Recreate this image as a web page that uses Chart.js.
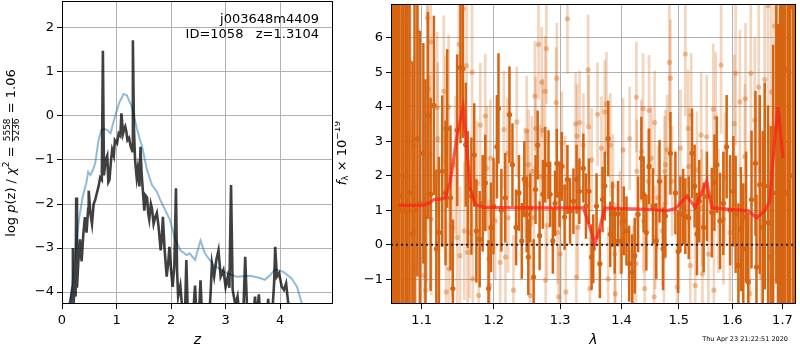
<!DOCTYPE html>
<html>
<head>
<meta charset="utf-8">
<script src="https://cdn.jsdelivr.net/npm/chart.js@4.4.1/dist/chart.umd.min.js"></script>
<style>
body { margin: 0; background: #fff; }
#wrap { position: relative; width: 800px; height: 350px; }
canvas { position: absolute; top: 0; }
#pz { left: 0; }
#sp { left: 335px; }
</style>
</head>
<body>
<div id="wrap">
<canvas id="pz" width="336" height="350"></canvas>
<canvas id="sp" width="465" height="350"></canvas>
</div>
<script>
// ---- p(z) panel ----
const zTicks = [0, 1, 2, 3, 4];
const pzTicks = [-4, -3, -2, -1, 0, 1, 2];

const zGrid = [0.12,0.15,0.19,0.20,0.21,0.23,0.25,0.26,0.275,0.30,
  0.33,0.36,0.39,0.42,0.45,0.48,0.49,0.52,0.55,0.58,
  0.61,0.64,0.67,0.70,0.73,0.75,0.77,0.80,0.83,0.85,
  0.87,0.90,0.92,0.95,0.97,1.01,1.04,1.07,1.09,1.12,
  1.14,1.16,1.18,1.20,1.23,1.26,1.29,1.30,1.32,1.34,
  1.37,1.39,1.42,1.44,1.46,1.48,1.51,1.53,1.56,1.58,
  1.60,1.63,1.65,1.68,1.71,1.74,1.77,1.81,1.83,1.85,
  1.88,1.92,1.95,1.97,2.00,2.03,2.06,2.09,2.11,2.13,
  2.17,2.22,2.26,2.28,2.31,2.40,2.44,2.47,2.52,2.54,
  2.57,2.70,2.73,2.75,2.79,2.83,2.87,2.91,2.96,3.00,
  3.04,3.07,3.10,3.13,3.18,3.22,3.26,3.33,3.36,3.40,
  3.50,3.54,3.57,3.61,3.64,3.76,3.78,3.81,3.86,3.89,
  3.91,3.94,3.98,4.03,4.07,4.11,4.14,4.18];
const logPz = [-4.6,-4.3,-3.9,-3.0,-4.3,-3.9,-4.1,-1.85,-3.9,-3.3,
  -2.8,-3.3,-2.7,-2.3,-2.65,-2.1,-1.7,-2.2,-2.45,-2.0,
  -1.9,-1.75,-1.6,-1.4,-1.45,1.48,-1.35,-1.0,-0.9,-1.5,
  -1.45,-1.0,-0.77,-0.9,-0.55,-0.62,-0.4,-0.45,0.06,-0.4,
  -0.3,-0.24,-0.35,-0.55,-0.5,-0.7,-0.8,1.72,-0.3,-1.0,
  -1.4,-1.2,-1.6,-0.7,-1.3,-1.65,-2.15,-1.8,-1.85,-2.2,
  -2.35,-2.0,-2.1,-2.45,-2.3,-2.2,-2.5,-3.05,-2.8,-2.29,
  -3.0,-3.65,-3.3,-2.97,-3.5,-3.88,-3.4,-1.64,-3.5,-4.1,
  -3.85,-4.6,-4.3,-3.27,-4.6,-4.6,-3.85,-4.6,-4.3,-3.73,
  -4.6,-4.6,-3.9,-3.35,-3.65,-3.27,-3.05,-3.65,-3.5,-3.88,
  -3.65,-3.9,-1.57,-3.95,-4.3,-4.1,-4.6,-4.3,-3.2,-4.6,
  -4.6,-4.1,-4.6,-4.05,-4.6,-4.6,-4.15,-4.6,-4.4,-3.8,
  -2.97,-3.65,-3.57,-3.88,-3.95,-3.8,-4.15,-4.6];

const zSmooth = [0.11,0.18,0.24,0.31,0.38,0.45,0.48,0.52,0.56,0.61,
  0.67,0.72,0.78,0.83,0.89,0.98,1.05,1.13,1.19,1.28,
  1.38,1.47,1.56,1.65,1.74,1.80,1.98,2.03,2.07,2.17,
  2.29,2.34,2.44,2.54,2.62,2.78,3.02,3.20,3.45,3.63,
  3.72,3.82,3.91,4.06,4.21,4.31,4.42];
const logPzSmooth = [-4.4,-3.95,-3.12,-2.36,-1.83,-1.5,-1.27,-1.34,-1.25,-1.07,
  -0.55,-0.32,-0.3,-0.32,-0.39,0.02,0.3,0.5,0.47,0.21,
  -0.32,-0.7,-1.23,-1.57,-1.72,-1.9,-2.36,-2.6,-2.78,-3.05,
  -3.16,-3.12,-3.27,-2.83,-3.12,-3.39,-3.57,-3.65,-3.63,-3.68,
  -3.72,-3.61,-3.48,-3.54,-3.69,-3.88,-4.35];

// ---- spectrum panel ----
const lamTicks = [1.1, 1.2, 1.3, 1.4, 1.5, 1.6, 1.7];
const fluxTicks = [-1, 0, 1, 2, 3, 4, 5, 6];

const lamDark = [1.0605,1.0625,1.0648,1.0668,1.0684,1.0705,1.0736,1.0760,1.0790,1.0813,
  1.0840,1.0878,1.0905,1.0943,1.0975,1.1022,1.1050,1.1083,1.1119,1.1163,
  1.1196,1.1231,1.1276,1.1321,1.1344,1.1389,1.1421,1.1481,1.1527,1.1560,
  1.1600,1.1630,1.1680,1.1720,1.1750,1.1797,1.1840,1.1877,1.1924,1.1960,
  1.1996,1.2045,1.2068,1.2110,1.2166,1.2229,1.2273,1.2327,1.2370,1.2412,
  1.2450,1.2486,1.2510,1.2540,1.2591,1.2620,1.2652,1.2682,1.2732,1.2767,
  1.2819,1.2844,1.2886,1.2920,1.2948,1.2990,1.3026,1.3070,1.3115,1.3156,
  1.3210,1.3260,1.3305,1.3369,1.3411,1.3459,1.3503,1.3530,1.3584,1.3638,
  1.3682,1.3720,1.3776,1.3810,1.3847,1.3885,1.3940,1.3999,1.4037,1.4083,
  1.4129,1.4180,1.4224,1.4282,1.4339,1.4378,1.4425,1.4472,1.4541,1.4599,
  1.4657,1.4720,1.4760,1.4850,1.4940,1.4990,1.5030,1.5080,1.5120,1.5182,
  1.5242,1.5290,1.5334,1.5376,1.5458,1.5520,1.5611,1.5660,1.5705,1.5767,
  1.5830,1.5893,1.5960,1.6022,1.6066,1.6120,1.6168,1.6215,1.6270,1.6312,
  1.6377,1.6455,1.6475,1.6540,1.6600,1.6640,1.6708,1.6760,1.6810,1.6875,
  1.6909,1.6950,1.6980,1.7020,1.7060,1.7116,1.7160,1.7219,1.7260];
const fluxDark = [1.0,1.0,1.0,2.0,4.52,1.0,1.41,1.0,2.0,1.07,
  1.5,0.31,1.0,3.08,1.2,2.65,0.8,3.75,1.46,4.04,
  -0.12,0.35,2.13,1.50,3.37,1.36,-1.27,3.32,5.14,5.10,
  2.90,1.60,1.41,2.60,0.40,0.16,1.20,1.79,-1.27,0.50,
  1.12,2.84,3.95,1.00,1.36,3.77,2.32,0.50,1.50,0.11,
  1.90,0.88,-0.36,1.07,-0.94,1.60,2.89,0.26,1.46,2.32,
  2.32,1.46,0.11,1.20,2.36,1.46,2.27,0.80,1.89,0.98,
  1.26,1.90,1.55,2.22,1.12,1.55,-0.36,-0.12,1.12,-0.55,
  1.31,1.70,3.08,0.30,0.88,0.11,0.90,0.11,0.69,0.40,
  -0.55,-0.80,-0.32,0.88,2.51,1.46,0.35,2.27,1.12,0.11,
  1.84,-0.12,0.83,2.65,1.50,-0.20,0.88,1.10,0.83,0.78,
  2.65,1.70,0.31,1.26,0.50,1.40,0.93,1.80,2.32,0.69,
  1.20,2.84,1.00,1.55,0.88,-0.60,0.45,-0.12,0.80,-1.08,
  1.31,2.36,-0.65,1.74,0.50,1.70,0.64,-0.36,1.50,3.37,
  0.40,2.00,1.10,2.00,1.50,5.09,2.00,6.90,2.00];
const errDark = [9,9,9,9,8,9,8,9,7,6,
  7,5,6,4,5,3.2,4,3,2.8,2.6,
  2.3,2.2,2.2,2.1,2.3,2.1,2.0,2.2,2.2,2.0,
  1.8,1.7,1.7,1.5,1.5,1.4,1.4,1.4,1.4,1.3,
  1.4,1.5,1.6,1.2,1.3,1.4,1.2,1.1,1.1,1.1,
  1.1,1.1,1.1,1.0,1.1,1.0,1.0,1.0,1.0,1.1,
  1.0,0.95,0.95,0.95,1.0,0.95,1.0,0.95,1.0,0.95,
  0.95,1.0,0.95,1.0,0.95,0.95,0.95,1.0,0.95,1.0,
  0.95,1.0,1.1,0.95,0.95,0.95,0.95,0.95,1.0,1.0,
  1.1,1.1,1.1,1.1,1.2,1.1,1.1,1.1,1.1,1.1,
  1.2,1.2,1.2,1.2,1.2,1.2,1.1,1.1,1.1,1.2,
  1.3,1.2,1.2,1.2,1.3,1.3,1.3,1.4,1.4,1.4,
  1.5,1.5,1.6,1.6,1.7,1.8,1.8,1.9,1.9,2.0,
  2.0,2.1,2.1,2.6,2.8,3.0,3.4,3.8,4.3,4.5,
  6,8,9,9,9,9,9,9,9];

const lamLight = [1.0620,1.0700,1.0769,1.0791,1.0804,1.0847,1.0856,1.0899,1.0912,1.0921,
  1.0951,1.1030,1.1053,1.1068,1.1075,1.1083,1.1110,1.1119,1.1128,1.1208,
  1.1215,1.1297,1.1321,1.1330,1.1363,1.1370,1.1414,1.1458,1.1481,1.1506,
  1.1520,1.1564,1.1580,1.1612,1.1625,1.1652,1.1689,1.1700,1.1760,1.1783,
  1.1806,1.1877,1.1900,1.1924,1.1940,1.1950,1.2020,1.2093,1.2147,1.2170,
  1.2199,1.2210,1.2288,1.2337,1.2462,1.2486,1.2500,1.2515,1.2540,1.2562,
  1.2596,1.2611,1.2620,1.2665,1.2689,1.2714,1.2732,1.2767,1.2775,1.2785,
  1.2795,1.2938,1.2948,1.2960,1.2976,1.3002,1.3026,1.3080,1.3090,1.3115,
  1.3245,1.3256,1.3267,1.3283,1.3308,1.3369,1.3447,1.3455,1.3476,1.3503,
  1.3600,1.3665,1.3720,1.3747,1.3776,1.3812,1.3856,1.3885,1.3895,1.3971,
  1.4026,1.4138,1.4196,1.4245,1.4253,1.4262,1.4339,1.4368,1.4375,1.4396,
  1.4455,1.4472,1.4512,1.4562,1.4570,1.4580,1.4629,1.4705,1.4734,1.4745,
  1.4762,1.4792,1.4832,1.4850,1.4880,1.4970,1.5030,1.5120,1.5170,1.5180,
  1.5210,1.5227,1.5302,1.5334,1.5411,1.5424,1.5435,1.5515,1.5546,1.5640,
  1.5650,1.5686,1.5736,1.5786,1.5831,1.5862,1.5957,1.6041,1.6066,1.6148,
  1.6245,1.6259,1.6343,1.6363,1.6441,1.6520,1.6574,1.6640,1.6708,1.6774,
  1.6839,1.6875,1.6950,1.7050];
const fluxLight = [3.0,2.0,6.58,4.14,2.51,5.31,0.98,2.89,0.40,-0.65,
  6.20,-0.89,-1.32,1.22,6.58,4.52,2.61,5.88,0.74,3.97,
  3.08,4.45,3.37,-1.37,3.99,-0.70,0.50,2.32,0.21,5.81,
  -0.32,6.84,0.40,5.19,-0.22,0.35,5.00,-0.99,1.79,-1.47,
  3.47,3.73,2.22,-0.41,-1.18,2.51,0.69,-0.51,3.34,-0.36,
  2.65,0.78,-1.32,3.56,1.79,3.30,1.74,2.32,-1.47,2.13,
  0.78,4.31,3.37,5.81,1.98,4.71,3.32,4.45,-1.03,5.69,
  0.55,4.12,4.83,0.35,-1.51,-0.27,2.94,1.65,-1.37,6.55,
  3.50,-0.94,3.15,0.50,3.54,2.89,5.07,3.42,-1.27,2.46,
  3.78,2.80,3.85,4.09,-0.99,2.89,1.70,-0.27,-1.42,0.64,
  2.75,3.08,-0.94,-0.55,4.28,2.13,2.70,3.95,0.69,-1.27,
  1.84,3.90,2.51,-1.51,3.54,0.21,1.36,0.40,-0.36,2.13,
  2.32,2.75,5.29,4.83,1.84,-1.23,2.80,5.53,3.37,2.27,
  -0.60,3.76,-1.18,2.17,3.18,1.07,-0.84,3.13,-0.27,3.93,
  -1.32,3.68,0.98,5.21,0.74,1.93,0.35,3.51,4.97,4.14,
  2.56,4.23,-1.42,4.97,3.61,4.57,-0.94,4.79,6.93,4.43,
  6.34,2.99,3.0,3.0];
const errLight = [6,6,3.0,2.8,2.8,2.8,2.6,2.6,2.5,2.5,
  2.6,2.4,2.3,2.3,2.4,2.4,2.3,2.3,2.2,2.2,
  2.2,2.2,2.1,2.1,2.1,2.0,2.0,2.0,2.0,2.1,
  2.0,2.1,2.0,2.0,1.9,1.9,2.0,1.9,1.8,1.8,
  1.8,1.8,1.8,1.7,1.7,1.7,1.7,1.7,1.7,1.6,
  1.6,1.6,1.6,1.6,1.6,1.6,1.6,1.6,1.6,1.6,
  1.5,1.6,1.5,1.6,1.5,1.6,1.5,1.6,1.5,1.6,
  1.5,1.6,1.6,1.5,1.5,1.5,1.5,1.5,1.5,1.6,
  1.5,1.5,1.5,1.5,1.5,1.5,1.6,1.5,1.5,1.5,
  1.5,1.5,1.5,1.5,1.5,1.5,1.5,1.5,1.5,1.5,
  1.5,1.5,1.5,1.5,1.6,1.5,1.5,1.6,1.5,1.5,
  1.5,1.6,1.5,1.5,1.5,1.5,1.5,1.6,1.6,1.6,
  1.6,1.6,1.7,1.7,1.6,1.6,1.7,1.8,1.7,1.7,
  1.7,1.8,1.7,1.7,1.8,1.7,1.7,1.8,1.8,1.9,
  1.8,1.9,1.8,2.0,1.9,1.9,2.0,2.0,2.1,2.1,
  2.1,2.2,2.2,2.3,2.4,2.5,2.5,2.7,3.0,3.2,
  3.5,4.0,8,8];

const lamModel = [1.0700,1.0900,1.1030,1.1100,1.1163,1.1240,1.1320,1.1380,1.1414,1.1481,
  1.1564,1.1609,1.1663,1.1730,1.1850,1.2500,1.3369,1.3476,1.3557,1.3612,
  1.3720,1.4541,1.4770,1.4940,1.5150,1.5302,1.5515,1.5611,1.6312,1.6475,
  1.6640,1.6740,1.6839,1.6909,1.7010];
const fluxModel = [1.15,1.14,1.15,1.20,1.31,1.32,1.36,1.80,2.22,3.18,
  3.99,2.99,1.65,1.17,1.08,1.07,1.07,0.50,0.02,0.31,
  1.07,1.02,0.98,1.05,1.41,1.08,1.84,1.07,0.98,0.78,
  0.98,1.26,2.99,3.99,2.51];

const lamMin = 1.06, lamMax = 1.728;
const zeroLevel = 0;

const DARK = 'rgb(214,100,16)';
const LIGHT_BAR = 'rgba(214,100,16,0.27)';
const LIGHT_DOT = 'rgba(214,100,16,0.38)';

Chart.defaults.font.family = 'DejaVu Sans';
Chart.defaults.font.size = 13;
Chart.defaults.color = '#000';

const minus = v => (v < 0 ? '\u2212' + Math.abs(v) : String(v));
const fixTicks = vals => s => { s.ticks = vals.map(v => ({ value: v })); };
const grid = () => ({ color: '#b0b0b0', lineWidth: 1, tickColor: '#000', tickLength: 5 });
const fitX = s => { s.height = 46; s.paddingLeft = 0; s.paddingRight = 0; };
const fitY = w => s => { s.width = w; s.paddingTop = 0; s.paddingBottom = 0; };

const frame = {
  id: 'frame',
  afterDraw(chart) {
    const a = chart.chartArea, ctx = chart.ctx;
    ctx.save();
    ctx.strokeStyle = '#000';
    ctx.lineWidth = 1;
    ctx.strokeRect(a.left + 0.5, a.top + 0.5, a.right - a.left - 1, a.bottom - a.top - 1);
    ctx.restore();
  }
};

function drawRuns(ctx, runs, cx, cy) {
  // runs: [text, font, dy] or ['frac', num, den]
  const sm = '9px DejaVu Sans';
  let total = 0;
  runs.forEach(r => {
    if (r[0] === 'frac') {
      ctx.font = sm;
      r.w = Math.max(ctx.measureText(r[1]).width, ctx.measureText(r[2]).width) + 2;
    } else {
      ctx.font = r[1];
      r.w = ctx.measureText(r[0]).width;
    }
    total += r.w;
  });
  let x = cx - total / 2;
  ctx.textBaseline = 'middle';
  ctx.textAlign = 'left';
  runs.forEach(r => {
    if (r[0] === 'frac') {
      ctx.font = sm;
      ctx.textAlign = 'center';
      ctx.fillText(r[1], x + r.w / 2, cy - 4.5);
      ctx.fillText(r[2], x + r.w / 2, cy + 5);
      ctx.fillRect(x + 0.5, cy, r.w - 1, 0.8);
      ctx.textAlign = 'left';
    } else {
      ctx.font = r[1];
      ctx.fillText(r[0], x, cy + (r[2] || 0));
    }
    x += r.w;
  });
}

const pzText = {
  id: 'pzText',
  afterDraw(chart) {
    const ctx = chart.ctx;
    ctx.save();
    ctx.fillStyle = '#000';
    ctx.font = '13px DejaVu Sans';
    ctx.textAlign = 'right';
    ctx.textBaseline = 'middle';
    ctx.fillText('j003648m4409', 319, 20);
    ctx.fillText('ID=1058   z=1.3104', 319, 35);
    ctx.translate(12, 153);
    ctx.rotate(-Math.PI / 2);
    const n = '13px DejaVu Sans', it = 'italic 13px DejaVu Sans', sm = '9px DejaVu Sans';
    drawRuns(ctx, [['log ', n], ['p', it], ['(z) / ', n], ['\u03c7', it], ['2', sm, -5], [' = ', n],
      ['frac', '5558', '5236'], [' = 1.06', n]], 0, 0);
    ctx.restore();
  }
};

const spText = {
  id: 'spText',
  afterDraw(chart) {
    const ctx = chart.ctx;
    ctx.save();
    ctx.fillStyle = '#000';
    ctx.font = '6.5px DejaVu Sans';
    ctx.textAlign = 'right';
    ctx.textBaseline = 'middle';
    ctx.fillText('Thu Apr 23 21:22:51 2020', 453, 339);
    ctx.translate(8, 153);
    ctx.rotate(-Math.PI / 2);
    const n = '13px DejaVu Sans', it = 'italic 13px DejaVu Sans', sm = '9px DejaVu Sans';
    drawRuns(ctx, [['f', it], ['\u03bb', sm, 3], [' \u00d7 10', n], ['\u221219', sm, -5]], 0, 0);
    ctx.restore();
  }
};

const pts = (xs, ys) => xs.map((x, i) => ({ x: x, y: ys[i] }));
const spans = (xs, ys, es) => xs.map((x, i) => ({ x: x, y: [ys[i] - es[i], ys[i] + es[i]] }));

new Chart(document.getElementById('pz'), {
  type: 'line',
  data: {
    datasets: [
      { data: pts(zGrid, logPz), borderColor: 'rgba(0,0,0,0.75)', borderWidth: 2.6,
        pointRadius: 0, tension: 0, clip: 0, order: 1 },
      { data: pts(zSmooth, logPzSmooth), borderColor: 'rgba(31,119,180,0.5)', borderWidth: 2,
        pointRadius: 0, tension: 0, clip: 0, order: 2 }
    ]
  },
  options: {
    responsive: false, animation: false, events: [], devicePixelRatio: 1,
    layout: { padding: { left: 0, right: 3, top: 1, bottom: 0 } },
    plugins: { legend: { display: false }, tooltip: { enabled: false } },
    scales: {
      x: {
        type: 'linear', min: 0, max: 4.97, bounds: 'data',
        afterBuildTicks: fixTicks(zTicks),
        afterFit: fitX,
        grid: grid(), border: { display: false },
        ticks: { padding: 4, maxRotation: 0, autoSkip: false, callback: minus },
        title: { display: true, text: 'z', font: { style: 'italic', size: 14 }, padding: { top: 0, bottom: 1 } }
      },
      y: {
        type: 'linear', min: -4.27, max: 2.61, bounds: 'data',
        afterBuildTicks: fixTicks(pzTicks),
        afterFit: fitY(62),
        grid: grid(), border: { display: false },
        ticks: { padding: 3, autoSkip: false, callback: minus }
      }
    }
  },
  plugins: [frame, pzText]
});

new Chart(document.getElementById('sp'), {
  type: 'scatter',
  data: {
    datasets: [
      { type: 'line', data: pts(lamModel, fluxModel), borderColor: 'rgba(255,30,25,0.72)', borderWidth: 3.2,
        pointRadius: 0, tension: 0, clip: 0, order: 1 },
      { type: 'line', data: [{ x: lamMin, y: zeroLevel }, { x: lamMax, y: zeroLevel }], borderColor: '#222',
        borderWidth: 2, borderDash: [2, 3], pointRadius: 0, clip: 0, order: 2 },
      { type: 'scatter', data: pts(lamDark, fluxDark), backgroundColor: DARK, borderWidth: 0,
        pointRadius: 2.6, clip: 0, order: 3 },
      { type: 'bar', data: spans(lamDark, fluxDark, errDark), backgroundColor: DARK,
        barThickness: 2.5, inflateAmount: 0, grouped: false, clip: 0, order: 4 },
      { type: 'scatter', data: pts(lamLight, fluxLight), backgroundColor: LIGHT_DOT, borderWidth: 0,
        pointRadius: 2.6, clip: 0, order: 5 },
      { type: 'bar', data: spans(lamLight, fluxLight, errLight), backgroundColor: LIGHT_BAR,
        barThickness: 2.7, inflateAmount: 0, grouped: false, clip: 0, order: 6 }
    ]
  },
  options: {
    responsive: false, animation: false, events: [], devicePixelRatio: 1,
    layout: { padding: { left: 0, right: 1, top: 1, bottom: 0 } },
    plugins: { legend: { display: false }, tooltip: { enabled: false } },
    scales: {
      x: {
        type: 'logarithmic', min: lamMin, max: lamMax, bounds: 'data', offset: false,
        afterBuildTicks: fixTicks(lamTicks),
        afterFit: fitX,
        grid: Object.assign(grid(), { offset: false }), border: { display: false },
        ticks: { padding: 4, maxRotation: 0, autoSkip: false, callback: v => Number(v).toFixed(1) },
        title: { display: true, text: '\u03bb', font: { style: 'italic', size: 14 }, padding: { top: 0, bottom: 1 } }
      },
      y: {
        type: 'linear', min: -1.72, max: 6.98, bounds: 'data', beginAtZero: false,
        afterBuildTicks: fixTicks(fluxTicks),
        afterFit: fitY(56),
        grid: grid(), border: { display: false },
        ticks: { padding: 3, autoSkip: false, callback: minus }
      }
    }
  },
  plugins: [frame, spText]
});
</script>
</body>
</html>
